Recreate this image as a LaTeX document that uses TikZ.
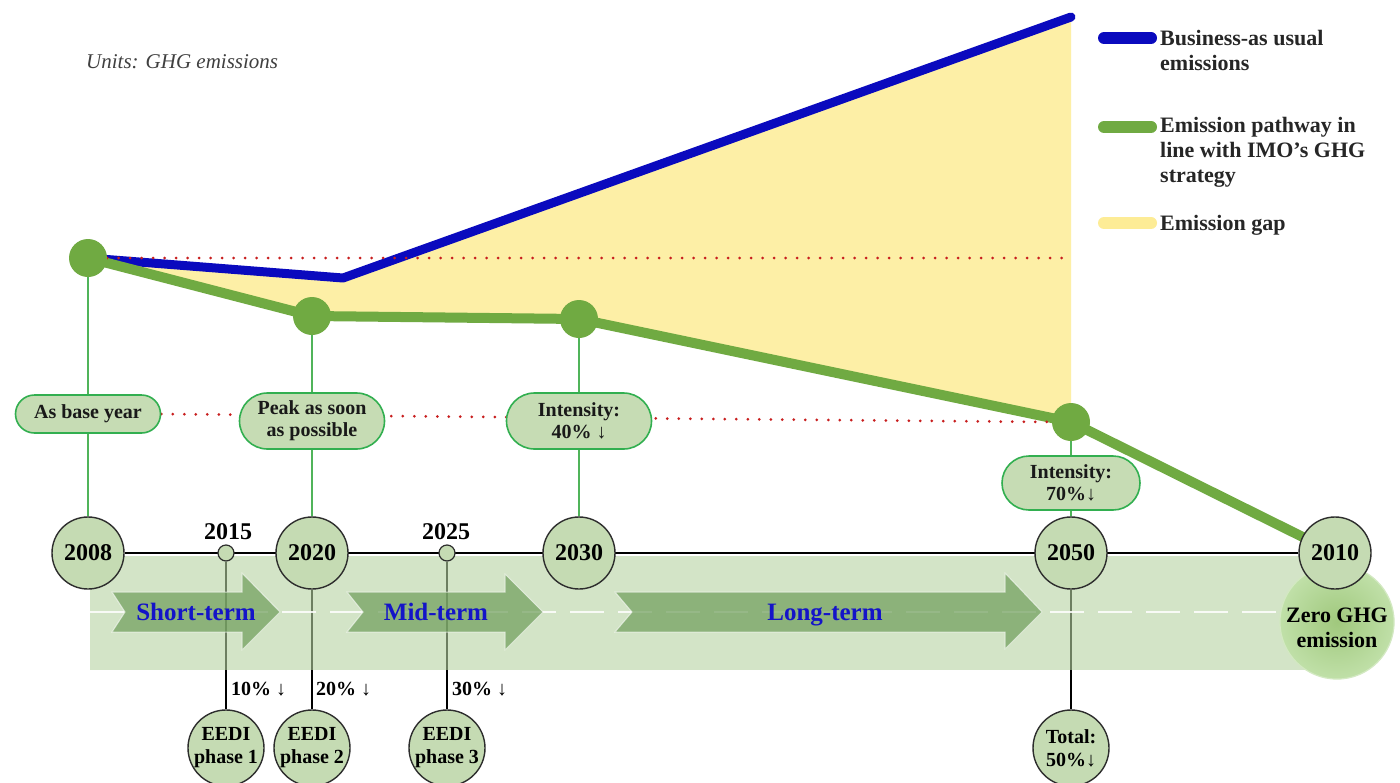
\documentclass[tikz,border=0pt]{standalone}
\usepackage{fontspec}
\setmainfont{Liberation Serif}
\usetikzlibrary{shapes.misc}
\definecolor{baublue}{RGB}{10,10,190}
\definecolor{pathgreen}{RGB}{112,170,66}
\definecolor{gapyellow}{RGB}{253,239,166}
\definecolor{legyellow}{RGB}{253,236,150}
\definecolor{boxfill}{RGB}{198,220,180}
\definecolor{boxedge}{RGB}{50,175,80}
\definecolor{linkgreen}{RGB}{80,180,90}
\definecolor{circfill}{RGB}{197,219,179}
\definecolor{circedge}{RGB}{45,45,45}
\definecolor{bandcol}{RGB}{183,210,163}
\definecolor{arrcol}{RGB}{113,159,93}
\definecolor{termblue}{RGB}{20,20,200}
\definecolor{dotred}{RGB}{200,30,30}
\definecolor{zeroin}{RGB}{160,200,125}
\definecolor{zeroout}{RGB}{192,224,168}
\pgfdeclarelayer{lA}
\pgfdeclarelayer{lB}
\pgfdeclarelayer{lC}
\pgfsetlayers{lA,lB,lC,main}
\begin{document}
\begin{tikzpicture}[x=1pt,y=-1pt,
  dotnode/.style={circle,fill=pathgreen,minimum size=38pt,inner sep=0pt},
  lbl/.style={rounded rectangle,draw=boxedge,line width=1.6pt,fill=boxfill,minimum width=149pt,minimum height=38pt,inner sep=2pt,align=center,font=\fontsize{20}{22}\selectfont\bfseries,text=black!90},
  yr/.style={circle,draw=circedge,line width=1.4pt,fill=circfill,minimum size=72pt,inner sep=0pt,font=\fontsize{24}{26}\selectfont\bfseries},
  smallc/.style={circle,draw=circedge,line width=1.2pt,fill=circfill,minimum size=16pt,inner sep=0pt},
  yrtxt/.style={font=\fontsize{24}{26}\selectfont\bfseries,inner sep=0pt},
  botc/.style={circle,draw=circedge,line width=1.4pt,fill=circfill,minimum size=76pt,inner sep=0pt,align=center,font=\fontsize{20}{23}\selectfont\bfseries},
  pct/.style={anchor=west,inner sep=0pt,font=\fontsize{20}{22}\selectfont\bfseries},
  termtxt/.style={anchor=base,inner sep=0pt,text=termblue,font=\fontsize{25}{27}\selectfont\bfseries},
  legtxt/.style={anchor=north west,inner sep=0pt,align=left,font=\fontsize{22}{25}\selectfont\bfseries,text=black!85},
  legline/.style={line width=12pt,line cap=round},
  gline/.style={pathgreen,line width=10pt,line join=round},
  bline/.style={baublue,line width=9pt,line join=round,line cap=round},
  reddot/.style={dotred,line width=3pt,line cap=round,dash pattern=on 0pt off 11.5pt},
  link/.style={linkgreen,line width=1.6pt},
  drop/.style={black,line width=1.8pt},
  arrowshape/.style={fill=arrcol,fill opacity=0.72,draw=white,draw opacity=0.6,line width=1pt}
]
\useasboundingbox (0,0) rectangle (1400,782);

% ---- main nodes ----
\node[dotnode] (d08) at (88,258) {};
\node[dotnode] (d20) at (312,316) {};
\node[dotnode] (d30) at (579,319) {};
\node[dotnode] (d50) at (1071,422) {};

\coordinate (bk) at (343,278);
\coordinate (be) at (1071,17);
\coordinate (r1e) at (1071,258);

\node[lbl] (b08) at (88,414) {As base year};
\node[lbl,minimum height=56pt] (b20) at (312,421) {Peak as soon\\as possible};
\node[lbl,minimum height=56pt] (b30) at (579,421) {Intensity:\\40\% ↓};
\node[lbl,minimum width=142pt,minimum height=54pt] (b50) at (1071,483) {Intensity:\\70\%↓};

\node[circle,minimum size=104pt,inner sep=0pt,shading=radial,inner color=zeroin,outer color=zeroout,draw=zeroout!70!white,line width=1.2pt,align=center,font=\fontsize{22}{25}\selectfont\bfseries] (zero) at (1337,622) {\\[2pt]Zero GHG\\emission};

\node[yr] (y08) at (88,553) {2008};
\node[yr] (y20) at (312,553) {2020};
\node[yr] (y30) at (579,553) {2030};
\node[yr] (y50) at (1071,553) {2050};
\node[yr] (y10) at (1335,553) {2010};

\node[smallc] (s15) at (226,553) {};
\node[smallc] (s25) at (447,553) {};
\node[yrtxt] (t15) at (228,532) {2015};
\node[yrtxt] (t25) at (446,532) {2025};

\node[botc] (e1) at (226,748) {EEDI\\phase 1};
\node[botc] (e2) at (312,748) {EEDI\\phase 2};
\node[botc] (e3) at (447,748) {EEDI\\phase 3};
\node[botc] (tot) at (1071,748) {Total:\\50\%↓};

\node[pct] (p1) at (231,689) {10\% ↓};
\node[pct] (p2) at (316,689) {20\% ↓};
\node[pct] (p3) at (452,689) {30\% ↓};

\node[termtxt] (tS) at (196,620) {Short-term};
\node[termtxt] (tM) at (436,620) {Mid-term};
\node[termtxt] (tL) at (825,620) {Long-term};

\node[anchor=west,inner sep=0pt,text=black!75,font=\fontsize{21}{23}\selectfont\itshape] (units) at (86,62) {Units: GHG emissions};

% legend
\coordinate (lb1) at (1104,38);  \coordinate (lb2) at (1151,38);
\coordinate (lg1) at (1104,127); \coordinate (lg2) at (1151,127);
\coordinate (ly1) at (1104,223); \coordinate (ly2) at (1151,223);
\draw[legline,baublue] (lb1) -- (lb2);
\draw[legline,pathgreen] (lg1) -- (lg2);
\draw[legline,legyellow] (ly1) -- (ly2);
\node[legtxt] (leg1) at (1160,30) {Business-as usual\\emissions};
\node[legtxt] (leg2) at (1160,117) {Emission pathway in\\line with IMO’s GHG\\strategy};
\node[legtxt] (leg3) at (1160,215) {Emission gap};

% ---- bottom layer ----
\begin{pgfonlayer}{lA}
\fill[white] (0,0) rectangle (1400,782);
\fill[gapyellow] (d08.center) -- (bk) -- (be) -- (d50.center) -- (d30.center) -- (d20.center) -- cycle;
\draw[bline] (d08.center) -- (bk) -- (be);
\draw[gline] (d08.center) -- (d20.center) -- (d30.center) -- (d50.center) -- (y10.center);
\draw[reddot] (d08.east) -- (r1e);
\draw[reddot] (b08.east) -- (d50.west);
\draw[link] (d08) -- (b08);
\draw[link] (b08) -- (y08);
\draw[link] (d20) -- (b20);
\draw[link] (b20) -- (y20);
\draw[link] (d30) -- (b30);
\draw[link] (b30) -- (y30);
\draw[link] (d50) -- (b50);
\draw[link] (b50) -- (y50);
\draw[drop] (s15) -- (e1);
\draw[drop] (y20) -- (e2);
\draw[drop] (s25) -- (e3);
\draw[drop] (y50) -- (tot);
\end{pgfonlayer}

% ---- band ----
\begin{pgfonlayer}{lB}
\fill[bandcol,fill opacity=0.6] (90,556) rectangle (1335,670);
\end{pgfonlayer}

% ---- arrows and timeline ----
\begin{pgfonlayer}{lC}
\draw[white,line width=2.5pt,dash pattern=on 34pt off 14pt,opacity=0.85] (90,612) -- (1290,612);
\draw[arrowshape] (112,592) -- (242,592) -- (242,573) -- (280,612) -- (242,650) -- (242,632) -- (112,632) -- (125,612) -- cycle;
\draw[arrowshape] (347,592) -- (505,592) -- (505,574) -- (543,612) -- (505,650) -- (505,632) -- (347,632) -- (363,612) -- cycle;
\draw[arrowshape] (615,592) -- (1005,592) -- (1005,573) -- (1042,612) -- (1005,649) -- (1005,632) -- (615,632) -- (632,612) -- cycle;
\draw[black,line width=2.5pt] (y08) -- (y10);
\end{pgfonlayer}
\end{tikzpicture}
\end{document}
